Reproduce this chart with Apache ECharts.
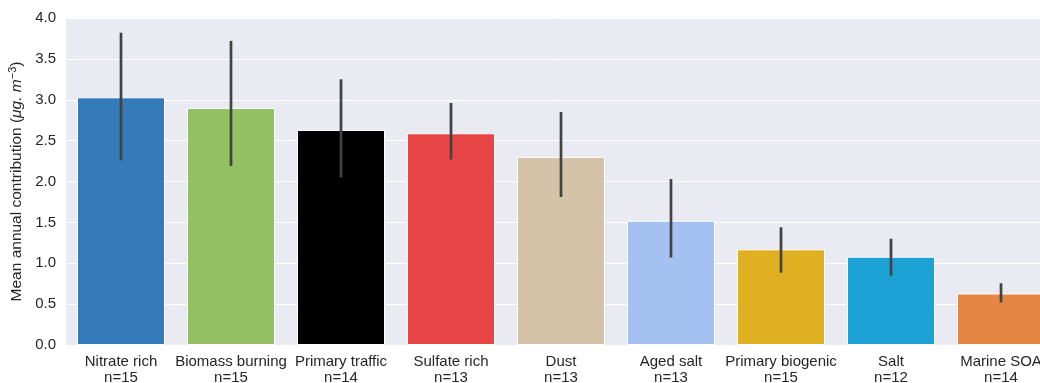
<!DOCTYPE html>
<html><head><meta charset="utf-8">
<script src="https://cdn.jsdelivr.net/npm/echarts@6/dist/echarts.min.js"></script>
<style>html,body{margin:0;padding:0;background:#fff;overflow:hidden}#c{width:1040px;height:383px}</style>
</head><body><div id="c"></div>
<script>
const categories = ['Nitrate rich','Biomass burning','Primary traffic','Sulfate rich','Dust','Aged salt','Primary biogenic','Salt','Marine SOA'];
const counts = [15,15,14,13,13,13,15,12,14];
const means = [3.03,2.90,2.63,2.59,2.30,1.52,1.17,1.08,0.63];
const ciLow = [2.26,2.19,2.05,2.27,1.81,1.07,0.885,0.85,0.52];
const ciHigh = [3.82,3.72,3.25,2.96,2.85,2.03,1.44,1.30,0.755];
const colors = ['#367BB9','#93C062','#000000','#E74545','#D4C3A7','#A4C1F1','#DFB021','#1DA2D5','#E68645'];
const yTicks = [0,0.5,1,1.5,2,2.5,3,3.5,4];

const FF = 'Liberation Sans, Arial, Helvetica, sans-serif';
const chart = echarts.init(document.getElementById('c'), null, {renderer:'canvas'});
chart.setOption({
  animation:false,
  backgroundColor:'#ffffff',
  grid:{left:66, width:990, top:18, height:327, show:true, backgroundColor:'#EAEAF2', borderWidth:0,
    outerBoundsMode:'none', containLabel:false},
  xAxis:{type:'category', data:categories.map((c,i)=>c+'\nn='+counts[i]),
    axisLine:{show:false}, axisTick:{show:false}, splitLine:{show:false},
    axisLabel:{color:'#262626', fontSize:15, fontFamily:FF, margin:9, lineHeight:16, interval:0}},
  yAxis:{type:'value', min:yTicks[0], max:yTicks[yTicks.length-1], interval:0.5,
    axisLine:{show:false}, axisTick:{show:false},
    splitLine:{show:true, lineStyle:{color:'#ffffff', width:1}},
    axisLabel:{color:'#262626', fontSize:15, fontFamily:FF, margin:10, formatter:v=>v.toFixed(1)},
    name:'{n|Mean annual contribution (}{i|μg. m}{s|−3}{n|)}', nameLocation:'middle', nameGap:40, nameRotate:90,
    nameTextStyle:{rich:{
      n:{fontSize:15.5, color:'#262626', fontFamily:FF},
      i:{fontSize:15.5, color:'#262626', fontStyle:'italic', fontFamily:FF},
      s:{fontSize:11, color:'#262626', verticalAlign:'top', padding:[0,0,7,0], fontFamily:FF}
    }}},
  series:[
    {type:'bar', barWidth:'80%', data:means.map((v,i)=>({value:v, itemStyle:{color:colors[i]}})),
      itemStyle:{borderColor:'#ffffff', borderWidth:1}, z:2},
    {type:'custom', z:3, data:ciLow.map((l,i)=>[i,l,ciHigh[i]]),
      encode:{x:0, y:[1,2]},
      renderItem:function(params, api){
        const p1 = api.coord([api.value(0), api.value(1)]);
        const p2 = api.coord([api.value(0), api.value(2)]);
        return {type:'line', shape:{x1:p1[0], y1:p1[1], x2:p2[0], y2:p2[1]},
          style:{stroke:'#424242', lineWidth:2.7, lineCap:'butt'}};
      }}
  ]
});
</script></body></html>
